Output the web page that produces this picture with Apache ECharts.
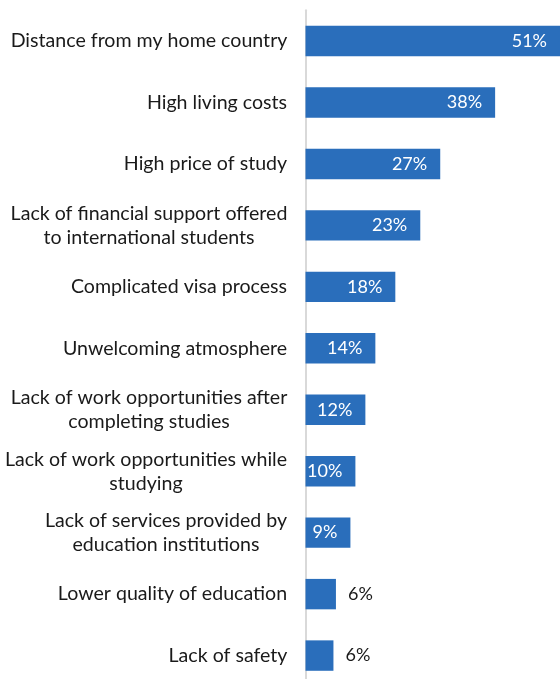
<!DOCTYPE html>
<html>
<head>
<meta charset="utf-8">
<script src="https://cdn.jsdelivr.net/npm/echarts@6/dist/echarts.min.js"></script>
<style>html,body{margin:0;padding:0;background:#fff}#c{width:560px;height:679px}</style>
</head>
<body>
<div id="c"></div>
<script>
const categories = [
  "Distance from my home country",
  "High living costs",
  "High price of study",
  "Lack of financial support offered\nto international students",
  "Complicated visa process",
  "Unwelcoming atmosphere",
  "Lack of work opportunities after\ncompleting studies",
  "Lack of work opportunities while\nstudying",
  "Lack of services provided by\neducation institutions",
  "Lower quality of education",
  "Lack of safety"
];
const values = [51, 38, 27, 23, 18, 14, 12, 10, 9, 6.1, 5.6];

const FONT = 'Lato';
const FS = 19.6;
const ctx = document.createElement('canvas').getContext('2d');
ctx.font = FS + 'px ' + FONT;
const rich = {};
categories.forEach((c, i) => {
  const lines = c.split('\n');
  const w = Math.max(...lines.map(l => ctx.measureText(l).width));
  rich['c' + i] = { width: Math.ceil(w), align: 'center', fontSize: FS, fontFamily: FONT, color: '#1a1a1a', lineHeight: 24 };
});

const chart = echarts.init(document.getElementById('c'));
chart.setOption({
  animation: false,
  grid: { left: 305.5, right: 0, top: 10.3, height: 676, containLabel: false, outerBoundsMode: 'none' },
  xAxis: { type: 'value', min: 0, max: 51, show: false },
  yAxis: {
    type: 'category', inverse: true, data: categories,
    axisLine: { show: true, lineStyle: { color: '#d9d9d9', width: 2 } },
    axisTick: { show: false },
    axisLabel: {
      margin: 18, align: 'right',
      formatter: (v, i) => v.split('\n').map(l => '{c' + i + '|' + l + '}').join('\n'),
      rich: rich
    }
  },
  series: [{
    type: 'bar', barWidth: '49.5%',
    itemStyle: { color: '#2a6ebb' },
    data: values.map(v => ({
      value: v,
      label: v >= 9 ? { position: 'insideRight', distance: 13, color: '#fff' }
                    : { position: 'right', distance: 12, color: '#1a1a1a' }
    })),
    label: { show: true, formatter: p => Math.round(p.value) + '%', fontSize: 18, fontFamily: FONT }
  }]
});
</script>
</body>
</html>
